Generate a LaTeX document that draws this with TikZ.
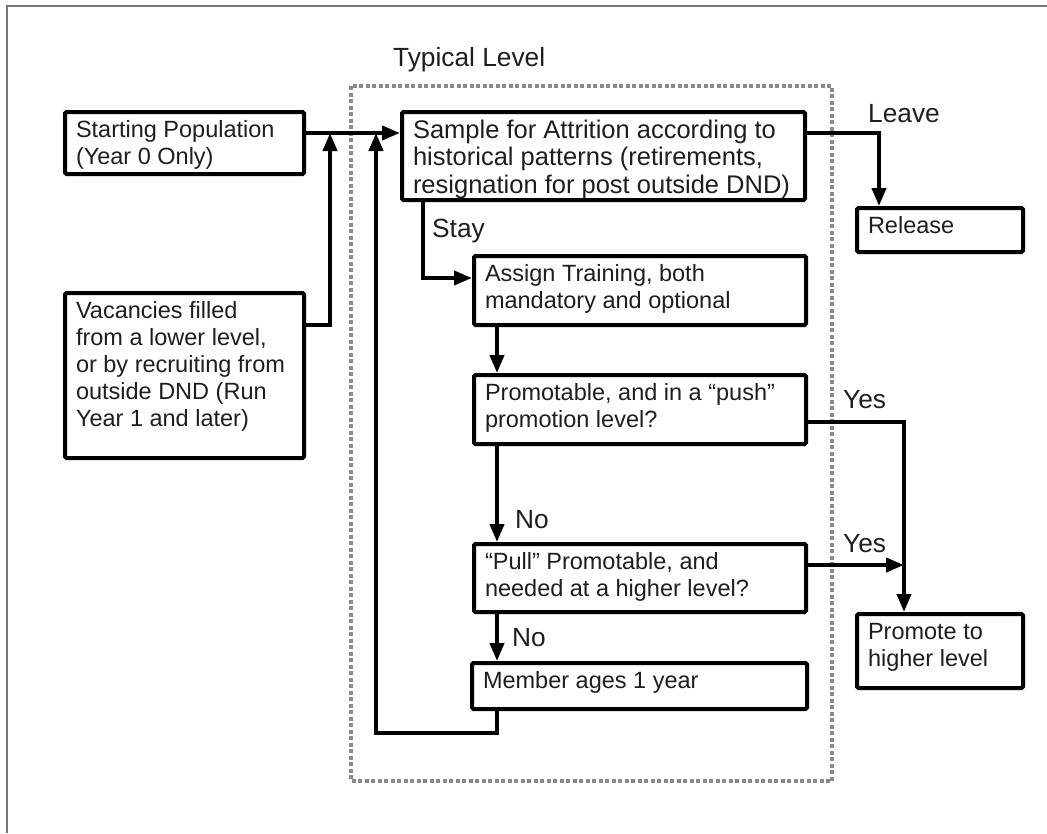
\documentclass[tikz,border=0pt]{standalone}
\usepackage{fontspec}
\setmainfont{Liberation Sans}
\usetikzlibrary{arrows.meta}
\definecolor{textc}{HTML}{1E1E1E}
\definecolor{framec}{HTML}{767676}
\definecolor{dashc}{HTML}{8A8A8A}
\newcommand{\fs}{\fontsize{23.5pt}{27pt}\selectfont}
\newcommand{\fsb}{\fontsize{25.5pt}{27.5pt}\selectfont}
\newcommand{\fsl}{\fontsize{26.3pt}{30pt}\selectfont}
\newcommand{\bt}[3]{\parbox[t][\dimexpr#2pt-14pt\relax][t]{\dimexpr#1pt-22pt\relax}{\raggedright\strut#3}}
\tikzset{
  box/.style={draw=black, line width=4pt, rounded corners=1.5pt, fill=white,
    inner xsep=11pt, inner ysep=7pt, anchor=north west, font=\fs, text=textc},
  lbl/.style={anchor=base west, inner sep=0pt, font=\fsl, text=textc},
  arr/.style={line width=4pt, -{Triangle[length=18pt,width=14pt]}},
  ln/.style={line width=4pt}
}
\begin{document}
\begin{tikzpicture}[x=1pt,y=-1pt]
\useasboundingbox (0,0) rectangle (1047,833);
% outer frame (partial)
\draw[framec, line width=2pt] (1047,6) -- (7,6) -- (7,833);
% dashed level frame
\draw[dashc, line width=3.2pt, dash pattern=on 4pt off 2.5pt] (351,86) rectangle (832,781);
\node[lbl] (typ) at (393,66) {Typical Level};

% boxes
\node[box] (start) at (63,110) {\bt{239}{62}{Starting Population\\(Year 0 Only)}};
\node[box] (vac) at (63,291) {\bt{239}{165}{Vacancies filled\\from a lower level,\\or by recruiting from\\outside DND (Run\\Year 1 and later)}};
\node[box, font=\fsb] (sample) at (400,110) {\bt{403}{88}{Sample for Attrition according to\\historical patterns (retirements,\\resignation for post outside DND)}};
\node[box] (release) at (855,206) {\bt{166}{44}{Release}};
\node[box] (assign) at (472,254) {\bt{332}{69}{Assign Training, both\\mandatory and optional}};
\node[box] (promo) at (472,373) {\bt{332}{69}{Promotable, and in a “push”\\promotion level?}};
\node[box] (pull) at (472,542) {\bt{332}{68}{“Pull” Promotable, and\\needed at a higher level?}};
\node[box] (member) at (470,661) {\bt{335}{46}{Member ages 1 year}};
\node[box] (promote) at (855,612) {\bt{166}{74}{Promote to\\higher level}};

% helper coordinates
\coordinate (feed) at (0,133);
\coordinate (vj) at (330,325);
\coordinate (loopc) at (376,733);
\coordinate (lx) at (879,0);
\coordinate (xs) at (423,0);
\coordinate (sy) at (0,278);
\coordinate (xm) at (497,0);
\coordinate (y1) at (0,422);
\coordinate (y2) at (0,565);
\coordinate (px) at (904,0);

% connectors
\draw[arr] (start.east |- feed) -- (sample.west |- feed);
\draw[arr] (vac.east |- vj) -- (vj) -- (vj |- feed);
\draw[arr] (member.south -| xm) |- (loopc) -- (loopc |- feed);
\draw[arr] (sample.east |- feed) -| (release.north -| lx);
\draw[arr] (sample.south -| xs) |- (assign.west |- sy);
\draw[arr] (assign.south -| xm) -- (promo.north -| xm);
\draw[arr] (promo.south -| xm) -- (pull.north -| xm);
\draw[arr] (pull.south -| xm) -- (member.north -| xm);
\draw[arr] (promo.east |- y1) -| (promote.north -| px);
\draw[arr] (pull.east |- y2) -- (px |- y2);

% labels
\node[lbl] (leave) at (868,122) {Leave};
\node[lbl] (stay) at (432,237) {Stay};
\node[lbl] (yes1) at (843,408) {Yes};
\node[lbl] (yes2) at (843,552) {Yes};
\node[lbl] (no1) at (515,528) {No};
\node[lbl] (no2) at (512,646) {No};
\end{tikzpicture}
\end{document}
